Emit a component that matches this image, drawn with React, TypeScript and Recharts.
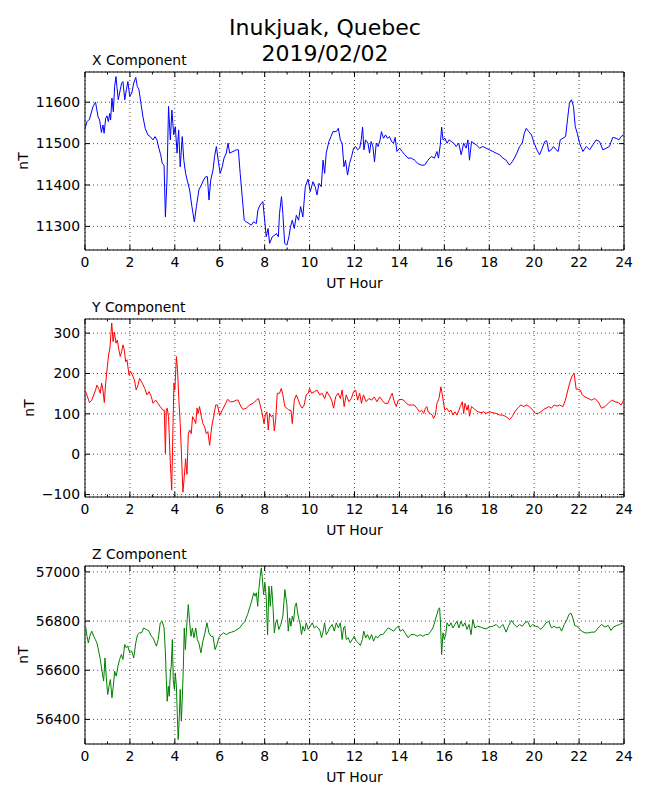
import { LineChart, Line, XAxis, YAxis, CartesianGrid, ReferenceArea } from "recharts"

const hourTicks = [0, 2, 4, 6, 8, 10, 12, 14, 16, 18, 20, 22, 24]
const xTicks = [11300, 11400, 11500, 11600]
const yTicks = [-100, 0, 100, 200, 300]
const zTicks = [56400, 56600, 56800, 57000]

// [UT hour, nT]
const xComponent: [number, number][] = [
  [0, 11537], [0.09, 11553], [0.2, 11559], [0.36, 11590], [0.47, 11600], [0.58, 11565], [0.65, 11557],
  [0.73, 11527], [0.8, 11545], [0.85, 11525], [0.92, 11561], [0.98, 11567], [1.04, 11553], [1.1, 11573],
  [1.14, 11557], [1.2, 11610], [1.26, 11577], [1.32, 11638], [1.38, 11662], [1.42, 11638], [1.48, 11606],
  [1.57, 11630], [1.63, 11646], [1.69, 11650], [1.77, 11606], [1.84, 11630], [1.91, 11650], [1.99, 11614],
  [2.08, 11622], [2.17, 11646], [2.26, 11660], [2.33, 11638], [2.4, 11631], [2.5, 11594], [2.58, 11565],
  [2.68, 11537], [2.8, 11521], [2.9, 11517], [3.03, 11509], [3.12, 11517], [3.2, 11509], [3.29, 11489],
  [3.37, 11473], [3.44, 11452], [3.52, 11448], [3.58, 11323], [3.65, 11412], [3.72, 11590], [3.8, 11509],
  [3.87, 11581], [3.95, 11521], [4.02, 11541], [4.1, 11477], [4.17, 11533], [4.24, 11444], [4.33, 11517],
  [4.4, 11460], [4.48, 11428], [4.55, 11412], [4.66, 11388], [4.76, 11348], [4.87, 11311], [4.96, 11348],
  [5.07, 11388], [5.18, 11400], [5.28, 11412], [5.37, 11420], [5.45, 11420], [5.52, 11364], [5.6, 11412],
  [5.7, 11436], [5.77, 11469], [5.85, 11493], [5.93, 11460], [6.02, 11428], [6.11, 11444], [6.19, 11465],
  [6.29, 11477], [6.37, 11501], [6.44, 11477], [6.59, 11481], [6.74, 11485], [6.83, 11485], [6.91, 11428],
  [7.0, 11372], [7.09, 11315], [7.18, 11311], [7.3, 11307], [7.4, 11303], [7.51, 11311], [7.63, 11307],
  [7.7, 11340], [7.8, 11352], [7.92, 11360], [8.0, 11315], [8.07, 11275], [8.15, 11295], [8.22, 11259],
  [8.34, 11275], [8.45, 11279], [8.52, 11283], [8.61, 11275], [8.66, 11331], [8.75, 11372], [8.81, 11331],
  [8.89, 11259], [8.99, 11255], [9.08, 11275], [9.15, 11299], [9.23, 11315], [9.32, 11295], [9.41, 11327],
  [9.51, 11315], [9.6, 11348], [9.7, 11323], [9.81, 11396], [9.93, 11414], [10.03, 11384], [10.15, 11408],
  [10.25, 11396], [10.33, 11376], [10.42, 11404], [10.52, 11396], [10.6, 11460], [10.67, 11428],
  [10.74, 11477], [10.86, 11505], [10.95, 11517], [11.04, 11529], [11.19, 11529], [11.28, 11537],
  [11.37, 11509], [11.45, 11501], [11.53, 11444], [11.6, 11460], [11.69, 11424], [11.78, 11452],
  [11.87, 11469], [11.96, 11489], [12.05, 11493], [12.14, 11485], [12.23, 11489], [12.3, 11509],
  [12.36, 11540], [12.42, 11485], [12.49, 11509], [12.6, 11501], [12.67, 11477], [12.74, 11505],
  [12.82, 11493], [12.89, 11456], [12.97, 11501], [13.05, 11493], [13.14, 11509], [13.2, 11529],
  [13.29, 11513], [13.38, 11521], [13.47, 11513], [13.56, 11517], [13.65, 11505], [13.74, 11501],
  [13.81, 11515], [13.89, 11481], [14.01, 11489], [14.12, 11481], [14.24, 11473], [14.38, 11465],
  [14.53, 11465], [14.67, 11460], [14.82, 11452], [14.97, 11448], [15.12, 11448], [15.27, 11460],
  [15.42, 11469], [15.56, 11465], [15.67, 11481], [15.74, 11465], [15.82, 11497], [15.88, 11540],
  [15.94, 11509], [16.03, 11513], [16.12, 11501], [16.21, 11509], [16.31, 11505], [16.42, 11501],
  [16.53, 11493], [16.64, 11501], [16.75, 11473], [16.86, 11501], [16.97, 11489], [17.05, 11509],
  [17.12, 11460], [17.21, 11505], [17.31, 11501], [17.42, 11497], [17.57, 11489], [17.71, 11493],
  [17.86, 11489], [18.01, 11485], [18.16, 11481], [18.31, 11477], [18.46, 11473], [18.61, 11465],
  [18.75, 11460], [18.9, 11448], [19.02, 11456], [19.12, 11465], [19.23, 11477], [19.35, 11493],
  [19.47, 11501], [19.56, 11525], [19.65, 11537], [19.76, 11529], [19.88, 11521], [20.0, 11501],
  [20.12, 11485], [20.24, 11473], [20.36, 11489], [20.47, 11505], [20.56, 11507], [20.65, 11481],
  [20.76, 11485], [20.86, 11493], [20.98, 11485], [21.07, 11481], [21.16, 11509], [21.28, 11513],
  [21.4, 11517], [21.49, 11561], [21.57, 11598], [21.66, 11606], [21.75, 11590], [21.83, 11541],
  [21.92, 11525], [22.02, 11501], [22.17, 11481], [22.32, 11493], [22.47, 11485], [22.61, 11497],
  [22.76, 11509], [22.91, 11505], [23.06, 11485], [23.21, 11489], [23.35, 11493], [23.5, 11515],
  [23.65, 11513], [23.77, 11509], [23.87, 11517], [23.98, 11521],
]

const yComponent: [number, number][] = [
  [0.03, 155], [0.1, 144], [0.2, 128], [0.3, 134], [0.39, 147], [0.47, 159], [0.53, 171], [0.61, 163],
  [0.68, 151], [0.74, 176], [0.8, 159], [0.86, 128], [0.92, 176], [0.98, 209], [1.05, 246], [1.11, 263],
  [1.19, 325], [1.25, 279], [1.31, 302], [1.38, 275], [1.44, 283], [1.51, 258], [1.57, 242], [1.63, 254],
  [1.69, 271], [1.75, 258], [1.81, 229], [1.87, 234], [1.96, 196], [2.03, 205], [2.11, 196], [2.2, 184],
  [2.28, 159], [2.36, 171], [2.43, 188], [2.55, 176], [2.66, 163], [2.76, 147], [2.85, 155], [2.95, 143],
  [3.03, 126], [3.15, 134], [3.25, 126], [3.35, 118], [3.47, 109], [3.53, 109], [3.58, 2], [3.62, 109],
  [3.66, 114], [3.72, 93], [3.8, -23], [3.86, -89], [3.92, 76], [3.96, 176], [4.0, 159], [4.07, 242],
  [4.12, 209], [4.18, 134], [4.24, 76], [4.3, -7], [4.36, -94], [4.42, -56], [4.48, -11], [4.54, -50],
  [4.6, 51], [4.66, 60], [4.73, 51], [4.79, 93], [4.87, 85], [4.93, 76], [4.99, 114], [5.04, 101],
  [5.1, 118], [5.18, 93], [5.25, 76], [5.33, 68], [5.4, 51], [5.47, 56], [5.55, 22], [5.64, 68],
  [5.73, 93], [5.82, 122], [5.9, 122], [5.99, 97], [6.11, 109], [6.23, 122], [6.35, 136], [6.47, 130],
  [6.59, 130], [6.74, 134], [6.82, 134], [6.91, 122], [7.03, 111], [7.18, 114], [7.33, 122], [7.48, 126],
  [7.63, 134], [7.72, 138], [7.8, 122], [7.89, 101], [7.97, 76], [8.03, 97], [8.1, 105], [8.16, 60],
  [8.22, 101], [8.29, 93], [8.37, 97], [8.43, 58], [8.49, 85], [8.56, 151], [8.66, 151], [8.74, 163],
  [8.81, 147], [8.9, 118], [8.99, 114], [9.08, 109], [9.17, 109], [9.23, 76], [9.32, 134], [9.41, 147],
  [9.5, 134], [9.58, 122], [9.67, 114], [9.76, 122], [9.85, 147], [9.94, 151], [10.0, 163], [10.09, 151],
  [10.22, 155], [10.33, 159], [10.45, 147], [10.56, 151], [10.67, 138], [10.77, 155], [10.89, 144],
  [10.98, 134], [11.07, 114], [11.16, 142], [11.27, 151], [11.37, 138], [11.45, 159], [11.54, 118],
  [11.63, 147], [11.75, 130], [11.86, 138], [11.96, 155], [12.05, 159], [12.14, 134], [12.23, 151],
  [12.31, 126], [12.4, 147], [12.52, 130], [12.64, 138], [12.76, 134], [12.88, 142], [13.0, 130],
  [13.12, 142], [13.23, 134], [13.35, 126], [13.49, 126], [13.6, 142], [13.68, 151], [13.77, 130],
  [13.86, 118], [13.95, 134], [14.07, 136], [14.19, 134], [14.31, 126], [14.42, 122], [14.54, 122],
  [14.66, 122], [14.78, 114], [14.9, 105], [14.99, 109], [15.08, 101], [15.16, 114], [15.22, 118],
  [15.28, 105], [15.37, 101], [15.46, 97], [15.52, 89], [15.6, 97], [15.67, 126], [15.76, 138],
  [15.85, 167], [15.91, 147], [15.97, 126], [16.02, 109], [16.11, 114], [16.21, 105], [16.3, 109],
  [16.38, 97], [16.47, 105], [16.56, 97], [16.65, 109], [16.71, 118], [16.8, 130], [16.86, 101],
  [16.92, 126], [17.01, 109], [17.07, 122], [17.12, 94], [17.21, 118], [17.3, 114], [17.39, 109],
  [17.51, 105], [17.63, 103], [17.75, 105], [17.86, 101], [18.01, 105], [18.16, 103], [18.31, 101],
  [18.46, 97], [18.61, 97], [18.75, 93], [18.9, 86], [19.02, 93], [19.14, 105], [19.26, 114],
  [19.41, 122], [19.53, 118], [19.65, 122], [19.79, 118], [19.94, 109], [20.06, 101], [20.18, 101],
  [20.3, 105], [20.42, 111], [20.53, 114], [20.65, 118], [20.77, 114], [20.89, 122], [21.01, 119],
  [21.13, 122], [21.28, 118], [21.39, 134], [21.5, 159], [21.6, 180], [21.69, 194], [21.78, 200],
  [21.87, 161], [21.96, 161], [22.05, 159], [22.14, 147], [22.26, 142], [22.41, 138], [22.56, 134],
  [22.7, 138], [22.85, 130], [23.0, 114], [23.15, 118], [23.3, 126], [23.45, 134], [23.6, 130],
  [23.75, 128], [23.87, 122], [23.98, 134],
]

const zComponent: [number, number][] = [
  [0.03, 56776], [0.09, 56738], [0.15, 56711], [0.21, 56738], [0.3, 56759], [0.39, 56738], [0.46, 56725],
  [0.53, 56711], [0.61, 56678], [0.68, 56644], [0.76, 56596], [0.83, 56556], [0.89, 56650], [0.95, 56569],
  [1.01, 56501], [1.07, 56535], [1.13, 56562], [1.2, 56488], [1.26, 56535], [1.32, 56596], [1.39, 56576],
  [1.47, 56617], [1.54, 56644], [1.62, 56664], [1.69, 56644], [1.77, 56705], [1.84, 56691], [1.91, 56698],
  [1.99, 56671], [2.08, 56678], [2.17, 56650], [2.26, 56711], [2.34, 56745], [2.43, 56752], [2.52, 56752],
  [2.61, 56772], [2.73, 56766], [2.85, 56759], [2.95, 56738], [3.03, 56732], [3.12, 56711], [3.18, 56698],
  [3.26, 56725], [3.35, 56793], [3.44, 56799], [3.52, 56772], [3.58, 56671], [3.62, 56562], [3.66, 56474],
  [3.71, 56535], [3.75, 56494], [3.8, 56589], [3.84, 56617], [3.89, 56725], [3.93, 56562], [3.98, 56522],
  [4.02, 56589], [4.07, 56535], [4.11, 56420], [4.15, 56318], [4.2, 56412], [4.24, 56522], [4.29, 56393],
  [4.33, 56481], [4.38, 56617], [4.42, 56772], [4.47, 56684], [4.51, 56752], [4.55, 56806], [4.6, 56867],
  [4.66, 56793], [4.72, 56738], [4.78, 56772], [4.85, 56732], [4.93, 56772], [5.0, 56725], [5.07, 56711],
  [5.16, 56671], [5.25, 56718], [5.34, 56752], [5.43, 56793], [5.52, 56752], [5.61, 56738], [5.7, 56738],
  [5.79, 56684], [5.88, 56705], [5.96, 56732], [6.07, 56745], [6.17, 56752], [6.29, 56745], [6.41, 56752],
  [6.53, 56755], [6.66, 56759], [6.77, 56766], [6.88, 56772], [7.0, 56786], [7.12, 56799], [7.24, 56827],
  [7.33, 56854], [7.42, 56881], [7.51, 56915], [7.57, 56901], [7.63, 56915], [7.69, 56860], [7.74, 56928],
  [7.8, 56982], [7.85, 57016], [7.89, 56982], [7.95, 56908], [8.01, 56955], [8.07, 56894], [8.13, 56745],
  [8.19, 56942], [8.25, 56860], [8.31, 56942], [8.37, 56860], [8.43, 56752], [8.49, 56793], [8.55, 56806],
  [8.63, 56766], [8.72, 56786], [8.81, 56820], [8.9, 56928], [8.99, 56867], [9.05, 56759], [9.11, 56813],
  [9.17, 56779], [9.23, 56820], [9.29, 56799], [9.35, 56860], [9.41, 56874], [9.47, 56833], [9.53, 56806],
  [9.58, 56786], [9.64, 56745], [9.7, 56779], [9.78, 56759], [9.85, 56793], [9.94, 56766], [10.03, 56779],
  [10.12, 56793], [10.21, 56772], [10.3, 56779], [10.39, 56772], [10.47, 56759], [10.53, 56732],
  [10.59, 56752], [10.67, 56793], [10.74, 56745], [10.83, 56759], [10.89, 56772], [11.01, 56786],
  [11.1, 56759], [11.19, 56793], [11.28, 56772], [11.37, 56793], [11.45, 56725], [11.51, 56772],
  [11.57, 56779], [11.63, 56725], [11.72, 56732], [11.81, 56711], [11.9, 56725], [11.99, 56738],
  [12.08, 56718], [12.17, 56711], [12.26, 56701], [12.35, 56725], [12.41, 56759], [12.5, 56732],
  [12.58, 56745], [12.67, 56725], [12.76, 56745], [12.85, 56718], [12.94, 56738], [13.04, 56732],
  [13.14, 56745], [13.26, 56745], [13.38, 56759], [13.5, 56772], [13.62, 56766], [13.74, 56759],
  [13.86, 56772], [13.95, 56779], [14.04, 56759], [14.15, 56766], [14.27, 56749], [14.39, 56732],
  [14.51, 56745], [14.66, 56745], [14.81, 56738], [14.93, 56745], [15.04, 56738], [15.16, 56745],
  [15.28, 56745], [15.4, 56759], [15.49, 56772], [15.58, 56799], [15.67, 56827], [15.73, 56847],
  [15.79, 56854], [15.83, 56793], [15.88, 56664], [15.94, 56752], [16.0, 56725], [16.06, 56745],
  [16.12, 56793], [16.21, 56779], [16.3, 56793], [16.38, 56772], [16.47, 56786], [16.56, 56799],
  [16.65, 56772], [16.74, 56799], [16.83, 56779], [16.92, 56793], [17.01, 56766], [17.1, 56786],
  [17.19, 56745], [17.27, 56806], [17.36, 56772], [17.48, 56779], [17.6, 56776], [17.71, 56772],
  [17.86, 56768], [18.01, 56776], [18.16, 56779], [18.31, 56786], [18.46, 56772], [18.61, 56786],
  [18.75, 56755], [18.87, 56782], [18.99, 56803], [19.11, 56786], [19.23, 56776], [19.35, 56786],
  [19.47, 56779], [19.59, 56793], [19.71, 56799], [19.82, 56776], [19.94, 56786], [20.06, 56779],
  [20.18, 56776], [20.3, 56766], [20.42, 56779], [20.53, 56793], [20.65, 56799], [20.77, 56772],
  [20.89, 56779], [21.01, 56772], [21.13, 56776], [21.22, 56759], [21.34, 56786], [21.46, 56806],
  [21.55, 56827], [21.64, 56832], [21.72, 56813], [21.81, 56782], [21.9, 56779], [21.99, 56772],
  [22.11, 56759], [22.26, 56752], [22.41, 56752], [22.56, 56755], [22.7, 56755], [22.85, 56772],
  [23.0, 56786], [23.15, 56776], [23.3, 56782], [23.42, 56762], [23.53, 56776], [23.68, 56782],
  [23.8, 56786], [23.95, 56793],
]

const PLOT_W = 539
const PLOT_H = 178
const HOUR_PX = PLOT_W / 24
const FONT = "'DejaVu Sans', sans-serif"

const fmt = (v: number) => (v < 0 ? `\u2212${-v}` : `${v}`)

function HourTick({ x, y, payload }: any) {
  const v = payload.value
  return (
    <g>
      <line x1={x} y1={y} x2={x} y2={y - 5} stroke="#000" />
      <line x1={x} y1={y - PLOT_H} x2={x} y2={y - PLOT_H + 5} stroke="#000" />
      {v < 24 && (
        <>
          <line x1={x + HOUR_PX} y1={y} x2={x + HOUR_PX} y2={y - 2.5} stroke="#000" />
          <line x1={x + HOUR_PX} y1={y - PLOT_H} x2={x + HOUR_PX} y2={y - PLOT_H + 2.5} stroke="#000" />
        </>
      )}
      <text x={x} y={y + 17} textAnchor="middle" fontSize={13.9} fill="#000">
        {v}
      </text>
    </g>
  )
}

function ValueTick({ x, y, payload }: any) {
  return (
    <g>
      <line x1={x} y1={y} x2={x + 5} y2={y} stroke="#000" />
      <line x1={x + PLOT_W - 5} y1={y} x2={x + PLOT_W} y2={y} stroke="#000" />
      <text x={x - 5} y={y + 4.8} textAnchor="end" fontSize={13.9} fill="#000">
        {fmt(payload.value)}
      </text>
    </g>
  )
}

type PanelProps = {
  title: string
  data: [number, number][]
  color: string
  domain: [number, number]
  ticks: number[]
  labelX: number
  top: number
}

function Panel({ title, data, color, domain, ticks, labelX, top }: PanelProps) {
  const rows = data.map(([h, v]) => ({ h, v }))
  return (
    <div style={{ position: "absolute", left: 0, top: top - 10, width: 650, height: 228 }}>
      <div style={{ position: "absolute", left: 92, top: -10, fontSize: 13.9, lineHeight: "16px", whiteSpace: "nowrap" }}>
        {title}
      </div>
      <LineChart width={650} height={228} data={rows} margin={{ top: 10, right: 26, bottom: 0, left: 0 }}>
        <CartesianGrid stroke="#000" strokeWidth={0.7} strokeDasharray="1 3" />
        <XAxis
          dataKey="h"
          type="number"
          domain={[0, 24]}
          ticks={hourTicks}
          interval={0}
          allowDataOverflow
          axisLine={false}
          tickLine={false}
          tickSize={0}
          tickMargin={0}
          height={40}
          tick={<HourTick />}
          label={{ value: "UT Hour", position: "insideBottom", offset: 2.3, fontSize: 13.9, fill: "#000" }}
        />
        <YAxis
          type="number"
          domain={domain}
          ticks={ticks}
          interval={0}
          allowDataOverflow
          axisLine={false}
          tickLine={false}
          tickSize={0}
          tickMargin={0}
          width={85}
          tick={<ValueTick />}
          label={{
            value: "nT",
            angle: -90,
            position: "insideLeft",
            offset: labelX,
            fontSize: 13.9,
            fill: "#000",
            style: { textAnchor: "middle" },
          }}
        />
        <Line
          dataKey="v"
          type="linear"
          stroke={color}
          strokeWidth={1}
          dot={false}
          isAnimationActive={false}
        />
        <ReferenceArea x1={0} x2={24} y1={domain[0]} y2={domain[1]} fill="none" stroke="#000" strokeWidth={1} />
      </LineChart>
    </div>
  )
}

export default function App() {
  return (
    <div
      style={{
        position: "absolute",
        left: 0,
        top: 0,
        width: 650,
        height: 800,
        background: "#fff",
        fontFamily: FONT,
        color: "#000",
      }}
    >
      <div style={{ position: "absolute", left: 0, top: 15, width: 650, textAlign: "center", fontSize: 22, lineHeight: "26px" }}>
        Inukjuak, Quebec
        <br />
        2019/02/02
      </div>
      <Panel title="X Component" data={xComponent} color="#0000ff" domain={[11243, 11673]} ticks={xTicks} labelX={23} top={72} />
      <Panel title="Y Component" data={yComponent} color="#ff0000" domain={[-106, 335]} ticks={yTicks} labelX={29} top={319} />
      <Panel title="Z Component" data={zComponent} color="#008000" domain={[56300, 57024]} ticks={zTicks} labelX={23} top={566} />
    </div>
  )
}
